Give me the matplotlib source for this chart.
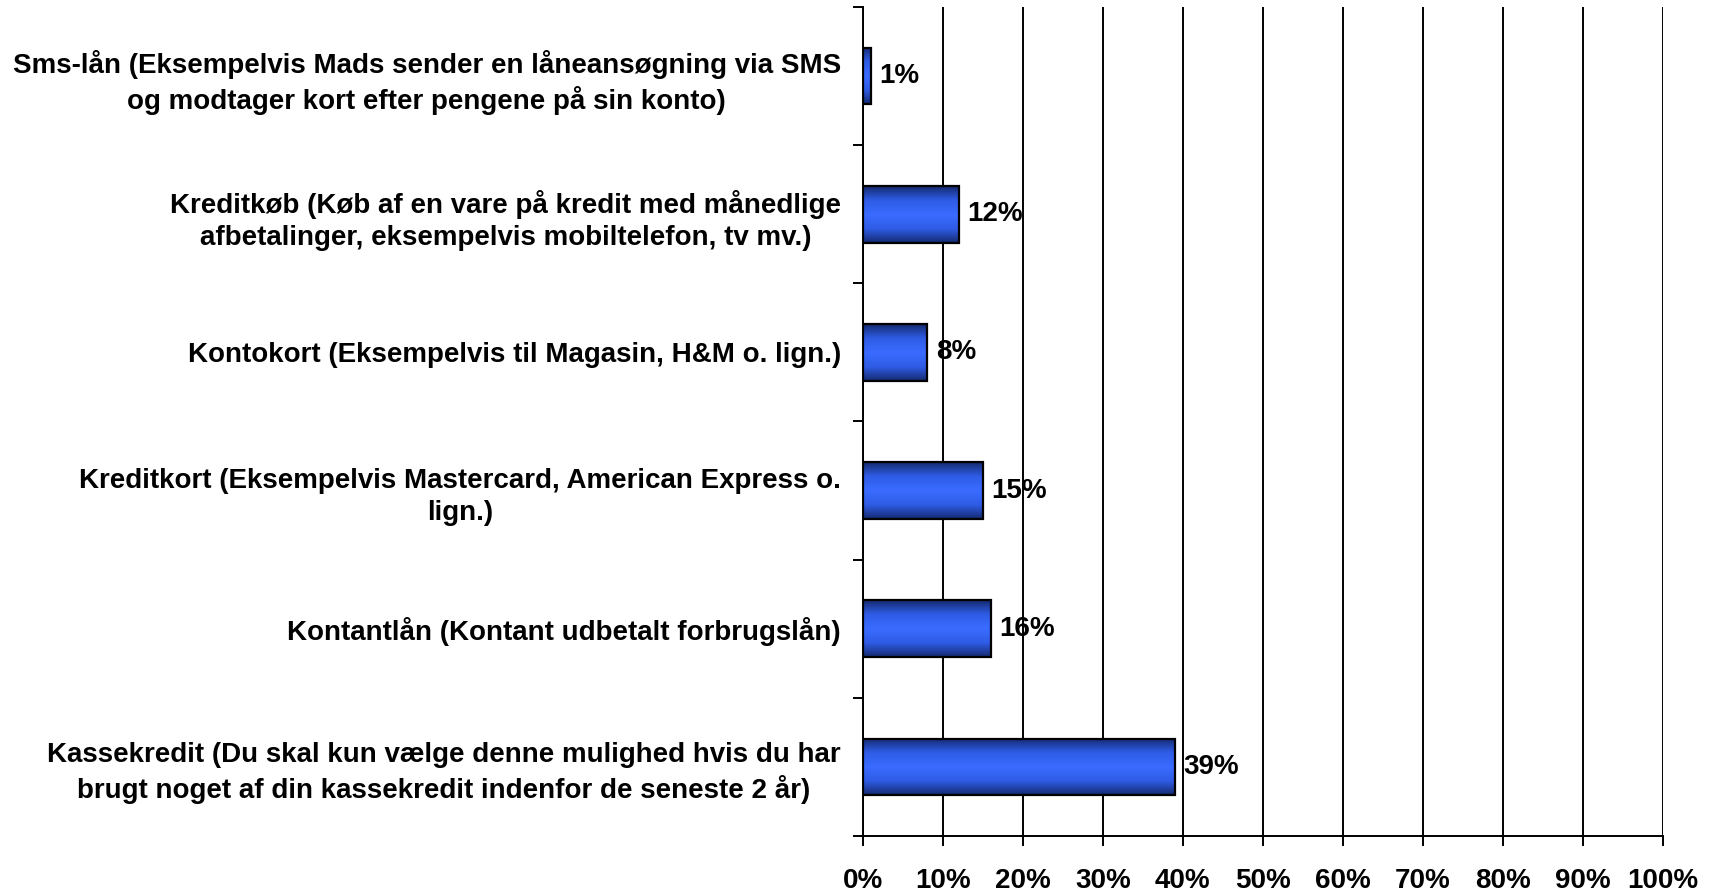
import numpy as np
import matplotlib

matplotlib.use('Agg')
import matplotlib.pyplot as plt
from matplotlib.colors import LinearSegmentedColormap
from matplotlib.ticker import FixedLocator, PercentFormatter

categories = [
    'Sms-lån (Eksempelvis Mads sender en låneansøgning via SMS\nog modtager kort efter pengene på sin konto)',
    'Kreditkøb (Køb af en vare på kredit med månedlige\nafbetalinger, eksempelvis mobiltelefon, tv mv.)',
    'Kontokort (Eksempelvis til Magasin, H&M o. lign.)',
    'Kreditkort (Eksempelvis Mastercard, American Express o.\nlign.)',
    'Kontantlån (Kontant udbetalt forbrugslån)',
    'Kassekredit (Du skal kun vælge denne mulighed hvis du har\nbrugt noget af din kassekredit indenfor de seneste 2 år)',
]
values = [1, 12, 8, 15, 16, 39]
x_ticks = [0, 10, 20, 30, 40, 50, 60, 70, 80, 90, 100]

plt.rcParams['font.family'] = ['Liberation Sans', 'DejaVu Sans']
plt.rcParams['font.weight'] = 'bold'

FS = 20
LW = 1.4

fig = plt.figure(figsize=(17.12, 8.92), dpi=100)
ax = fig.add_axes([0.504, 0.0628, 0.4674, 0.9294])

n = len(categories)
ypos = np.arange(n)[::-1]  # first category on top
bar_h = 0.41

# vertical shading: dark navy edges, bright blue middle
cmap = LinearSegmentedColormap.from_list(
    'barshade', ['#142a6e', '#2f5ce6', '#3a6cff', '#2f5ce6', '#142a6e'])
grad = np.linspace(0, 1, 256).reshape(-1, 1)

bars = ax.barh(ypos, values, height=bar_h, color='none',
               edgecolor='black', linewidth=1.6, zorder=4)
for b, v in zip(bars, values):
    x0, y0 = b.get_x(), b.get_y()
    im = ax.imshow(grad, cmap=cmap, aspect='auto', interpolation='bilinear',
                   extent=(x0, x0 + b.get_width(), y0, y0 + b.get_height()),
                   zorder=3)
    im.set_clip_path(b)
    ax.text(v + 1.1, b.get_y() + b.get_height() / 2, f'{v}%',
            va='center', ha='left', fontsize=FS, fontweight='bold', zorder=5)

ax.set_xlim(0, 100)
ax.set_ylim(-0.5, n - 0.5)

ax.set_xticks(x_ticks)
ax.xaxis.set_major_formatter(PercentFormatter(decimals=0))
ax.tick_params(axis='x', length=7.2, width=LW, pad=15.5, labelsize=FS)

ax.set_yticks(ypos)
ax.set_yticklabels(categories, fontsize=FS, fontweight='bold',
                   multialignment='center', linespacing=1.3)
ax.yaxis.set_minor_locator(FixedLocator(np.arange(-0.5, n, 1.0)))
ax.tick_params(axis='y', which='major', length=0, pad=15.8)
ax.tick_params(axis='y', which='minor', length=7.2, width=LW)

ax.grid(axis='x', color='black', linewidth=LW, zorder=0)
ax.set_axisbelow(True)
for s in ['top', 'right']:
    ax.spines[s].set_visible(False)
for s in ['left', 'bottom']:
    ax.spines[s].set_linewidth(LW)

fig.savefig('out.png', dpi=100)
